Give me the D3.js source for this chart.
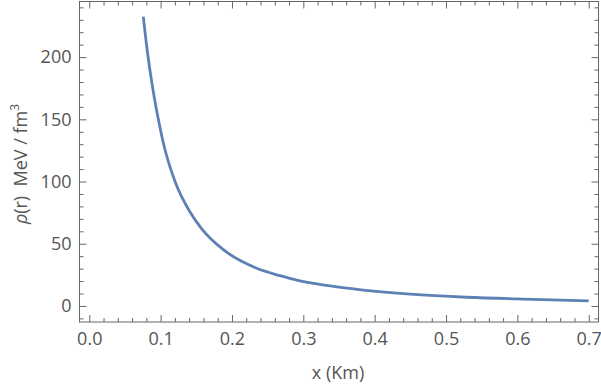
<!DOCTYPE html>
<html lang="en">
	<head>
		<meta charset="UTF-8" />
		<title>rho(r)</title>
		<style>
			* {
				padding: 0;
				margin: 0;
			}
			body {
				background: #fff;
			}
			.tick text {
				font-family: 'Open Sans', sans-serif;
				font-size: 18px;
				fill: #555;
			}
			.domain {
				display: none;
			}
			.tick line {
				stroke: #666;
			}
			.title {
				font-family: 'Open Sans', sans-serif;
				font-size: 18px;
				fill: #555;
			}
		</style>
	</head>
	<body>
		<svg id="chart" width="601" height="386"></svg>
		<script src="https://d3js.org/d3.v7.min.js"></script>
		<script>
			// values
			let xValues = [0.0757, 0.0813, 0.0898, 0.0982, 0.1038, 0.1202, 0.1412, 0.1576, 0.1879, 0.2348, 0.2675, 0.291, 0.3376, 0.384, 0.4498, 0.529, 0.622, 0.7];
			let rhoValues = [232.6, 205, 172, 146, 131, 100, 75.5, 62, 45.2, 30.3, 24.3, 20.7, 16.1, 12.8, 9.5, 7.0, 5.3, 4.1];
			let xTicks = [0.0, 0.1, 0.2, 0.3, 0.4, 0.5, 0.6, 0.7];
			let yTicks = [0, 50, 100, 150, 200];

			let svg = d3.select('#chart'),
				pLeft = 79.5,
				pRight = 598.5,
				pTop = 1.5,
				pBottom = 322;

			let x = d3.scaleLinear().domain([-0.0137, 0.7137]).range([pLeft, pRight]);
			let y = d3.scaleLinear().domain([-12.9, 244.7]).range([pBottom, pTop]);

			let xMinor = d3.range(0, 0.7137, 0.02).filter(function (v) {
				return Math.abs(v * 10 - Math.round(v * 10)) > 1e-6;
			});
			let yMinor = d3.range(-10, 244, 10).filter(function (v) {
				return v % 50 !== 0;
			});

			// ticks drawn inward on the frame, no labels
			function frameTicks(axis, tr, size, vals) {
				svg.append('g')
					.attr('transform', tr)
					.call(axis.tickValues(vals).tickSizeInner(size).tickSizeOuter(0).tickFormat(''));
			}

			frameTicks(d3.axisBottom(x), 'translate(0,' + pBottom + ')', -4, xMinor);
			frameTicks(d3.axisTop(x), 'translate(0,' + pTop + ')', -4, xMinor);
			frameTicks(d3.axisLeft(y), 'translate(' + pLeft + ',0)', -4, yMinor);
			frameTicks(d3.axisRight(y), 'translate(' + pRight + ',0)', -4, yMinor);
			frameTicks(d3.axisTop(x), 'translate(0,' + pTop + ')', -7, xTicks);
			frameTicks(d3.axisRight(y), 'translate(' + pRight + ',0)', -7, yTicks);

			// major ticks with labels
			svg.append('g')
				.attr('transform', 'translate(0,' + pBottom + ')')
				.call(d3.axisBottom(x).tickValues(xTicks).tickSizeInner(-7).tickSizeOuter(0).tickPadding(10).tickFormat(d3.format('.1f')));
			svg.append('g')
				.attr('transform', 'translate(' + pLeft + ',0)')
				.call(d3.axisLeft(y).tickValues(yTicks).tickSizeInner(-7).tickSizeOuter(0).tickPadding(8).tickFormat(d3.format('d')));

			// frame
			svg.append('rect')
				.attr('x', pLeft)
				.attr('y', pTop)
				.attr('width', pRight - pLeft)
				.attr('height', pBottom - pTop)
				.attr('fill', 'none')
				.attr('stroke', '#666')
				.attr('stroke-width', 1);

			let line = d3
				.line()
				.x(function (d, i) {
					return x(xValues[i]);
				})
				.y(function (d) {
					return y(d);
				})
				.curve(d3.curveMonotoneX);

			svg.append('path')
				.attr('d', line(rhoValues))
				.attr('fill', 'none')
				.attr('stroke', '#5e81b5')
				.attr('stroke-width', 2.8)
				.attr('stroke-linecap', 'butt');

			// axis titles
			svg.append('text')
				.attr('class', 'title')
				.attr('x', 338)
				.attr('y', 379)
				.attr('text-anchor', 'middle')
				.text('x (Km)');

			let yt = svg
				.append('text')
				.attr('class', 'title')
				.attr('transform', 'translate(27,164) rotate(-90)')
				.attr('text-anchor', 'middle');
			yt.append('tspan').attr('font-style', 'italic').text('ρ');
			yt.append('tspan').text('(r)\u00a0\u00a0MeV / fm');
			yt.append('tspan').attr('font-size', 12).attr('dy', -8).text('3');
		</script>
	</body>
</html>
